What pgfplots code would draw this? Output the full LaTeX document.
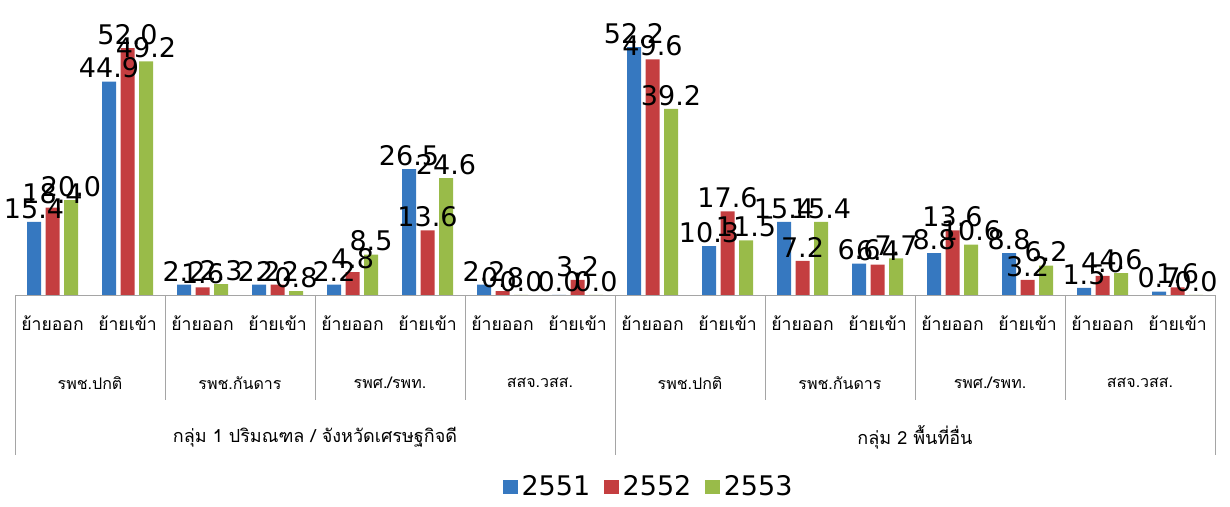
\documentclass[border=0pt]{standalone}
\usepackage{fontspec}
\usepackage{pgfplots}
\pgfplotsset{compat=1.18}
\usepackage{pgfplotstable}
\setmainfont{DejaVu Sans}
\newfontfamily\thaifont[Script=Thai]{Loma}

\definecolor{c51}{RGB}{54,120,192}
\definecolor{c52}{RGB}{196,62,64}
\definecolor{c53}{RGB}{153,187,73}
\definecolor{sep}{RGB}{165,165,165}

\pgfplotstableread{
x y51 y52 y53
0 15.4 18.4 20.0
1 44.9 52.0 49.2
2 2.2 1.6 2.3
3 2.2 2.2 0.8
4 2.2 4.8 8.5
5 26.5 13.6 24.6
6 2.2 0.8 0.0
7 0.0 3.2 0.0
8 52.2 49.6 39.2
9 10.3 17.6 11.5
10 15.4 7.2 15.4
11 6.6 6.4 7.7
12 8.8 13.6 10.6
13 8.8 3.2 6.2
14 1.5 4.0 4.6
15 0.7 1.6 0.0
}\data

\newcommand{\lblfont}{\fontsize{13.5}{13.5}\selectfont}
\newcommand{\pair}[2]{%
  \node[font=\thaifont\fontsize{8.8}{8.8}\selectfont] at (axis cs:#1,0) [yshift=-14pt] {ย้ายออก};
  \node[font=\thaifont\fontsize{8.8}{8.8}\selectfont] at (axis cs:#1+1,0) [yshift=-14pt] {ย้ายเข้า};
  \node[font=\thaifont\fontsize{8}{8}\selectfont] at (axis cs:#1+0.5,0) [yshift=-44pt] {#2};
}

\begin{document}
\begin{tikzpicture}
\begin{axis}[
    scale only axis,
    width=600pt, height=142.5pt,
    ybar=2.25pt, bar width=7pt,
    xmin=-0.5, xmax=15.5,
    ymin=0, ymax=60,
    axis x line=bottom, axis y line=none,
    x axis line style={draw=sep, -},
    xtick=\empty,
    clip=false,
    nodes near coords,
    nodes near coords style={font=\lblfont, text=black, inner sep=1.5pt},
    /pgf/number format/.cd, fixed, fixed zerofill, precision=1, assume math mode=true,
    /pgfplots/.cd,
    legend style={at={(0.529,-0.674)}, anchor=center, draw=none,
        font=\fontsize{13.5}{13.5}\selectfont, legend columns=-1,
        /tikz/every even column/.append style={column sep=5pt}},
    legend image code/.code={\fill[#1] (0pt,-3.6pt) rectangle (7.2pt,3.6pt);},
]
\addplot[fill=c51, draw=none] table[x=x, y=y51] {\data};
\addplot[fill=c52, draw=none] table[x=x, y=y52] {\data};
\addplot[fill=c53, draw=none] table[x=x, y=y53] {\data};
\legend{2551, 2552, 2553}

\pair{0}{รพช.ปกติ}
\pair{2}{รพช.กันดาร}
\pair{4}{รพศ./รพท.}
\pair{6}{สสจ.วสส.}
\pair{8}{รพช.ปกติ}
\pair{10}{รพช.กันดาร}
\pair{12}{รพศ./รพท.}
\pair{14}{สสจ.วสส.}

\node[font=\thaifont\fontsize{9}{9}\selectfont] at (axis cs:3.5,0) [yshift=-71pt] {กลุ่ม 1 ปริมณฑล / จังหวัดเศรษฐกิจดี};
\node[font=\thaifont\fontsize{9}{9}\selectfont] at (axis cs:11.5,0) [yshift=-71pt] {กลุ่ม 2 พื้นที่อื่น};

\pgfplotsinvokeforeach{1.5,3.5,5.5,9.5,11.5,13.5}{
  \draw[sep] (axis cs:#1,0) -- ([yshift=-52.5pt]axis cs:#1,0);
}
\pgfplotsinvokeforeach{-0.5,7.5,15.5}{
  \draw[sep] (axis cs:#1,0) -- ([yshift=-80pt]axis cs:#1,0);
}

\path ([xshift=-7.5pt,yshift=-102.5pt]rel axis cs:0,0);
\path ([xshift=7.5pt,yshift=5pt]rel axis cs:1,1);
\end{axis}
\end{tikzpicture}
\end{document}
